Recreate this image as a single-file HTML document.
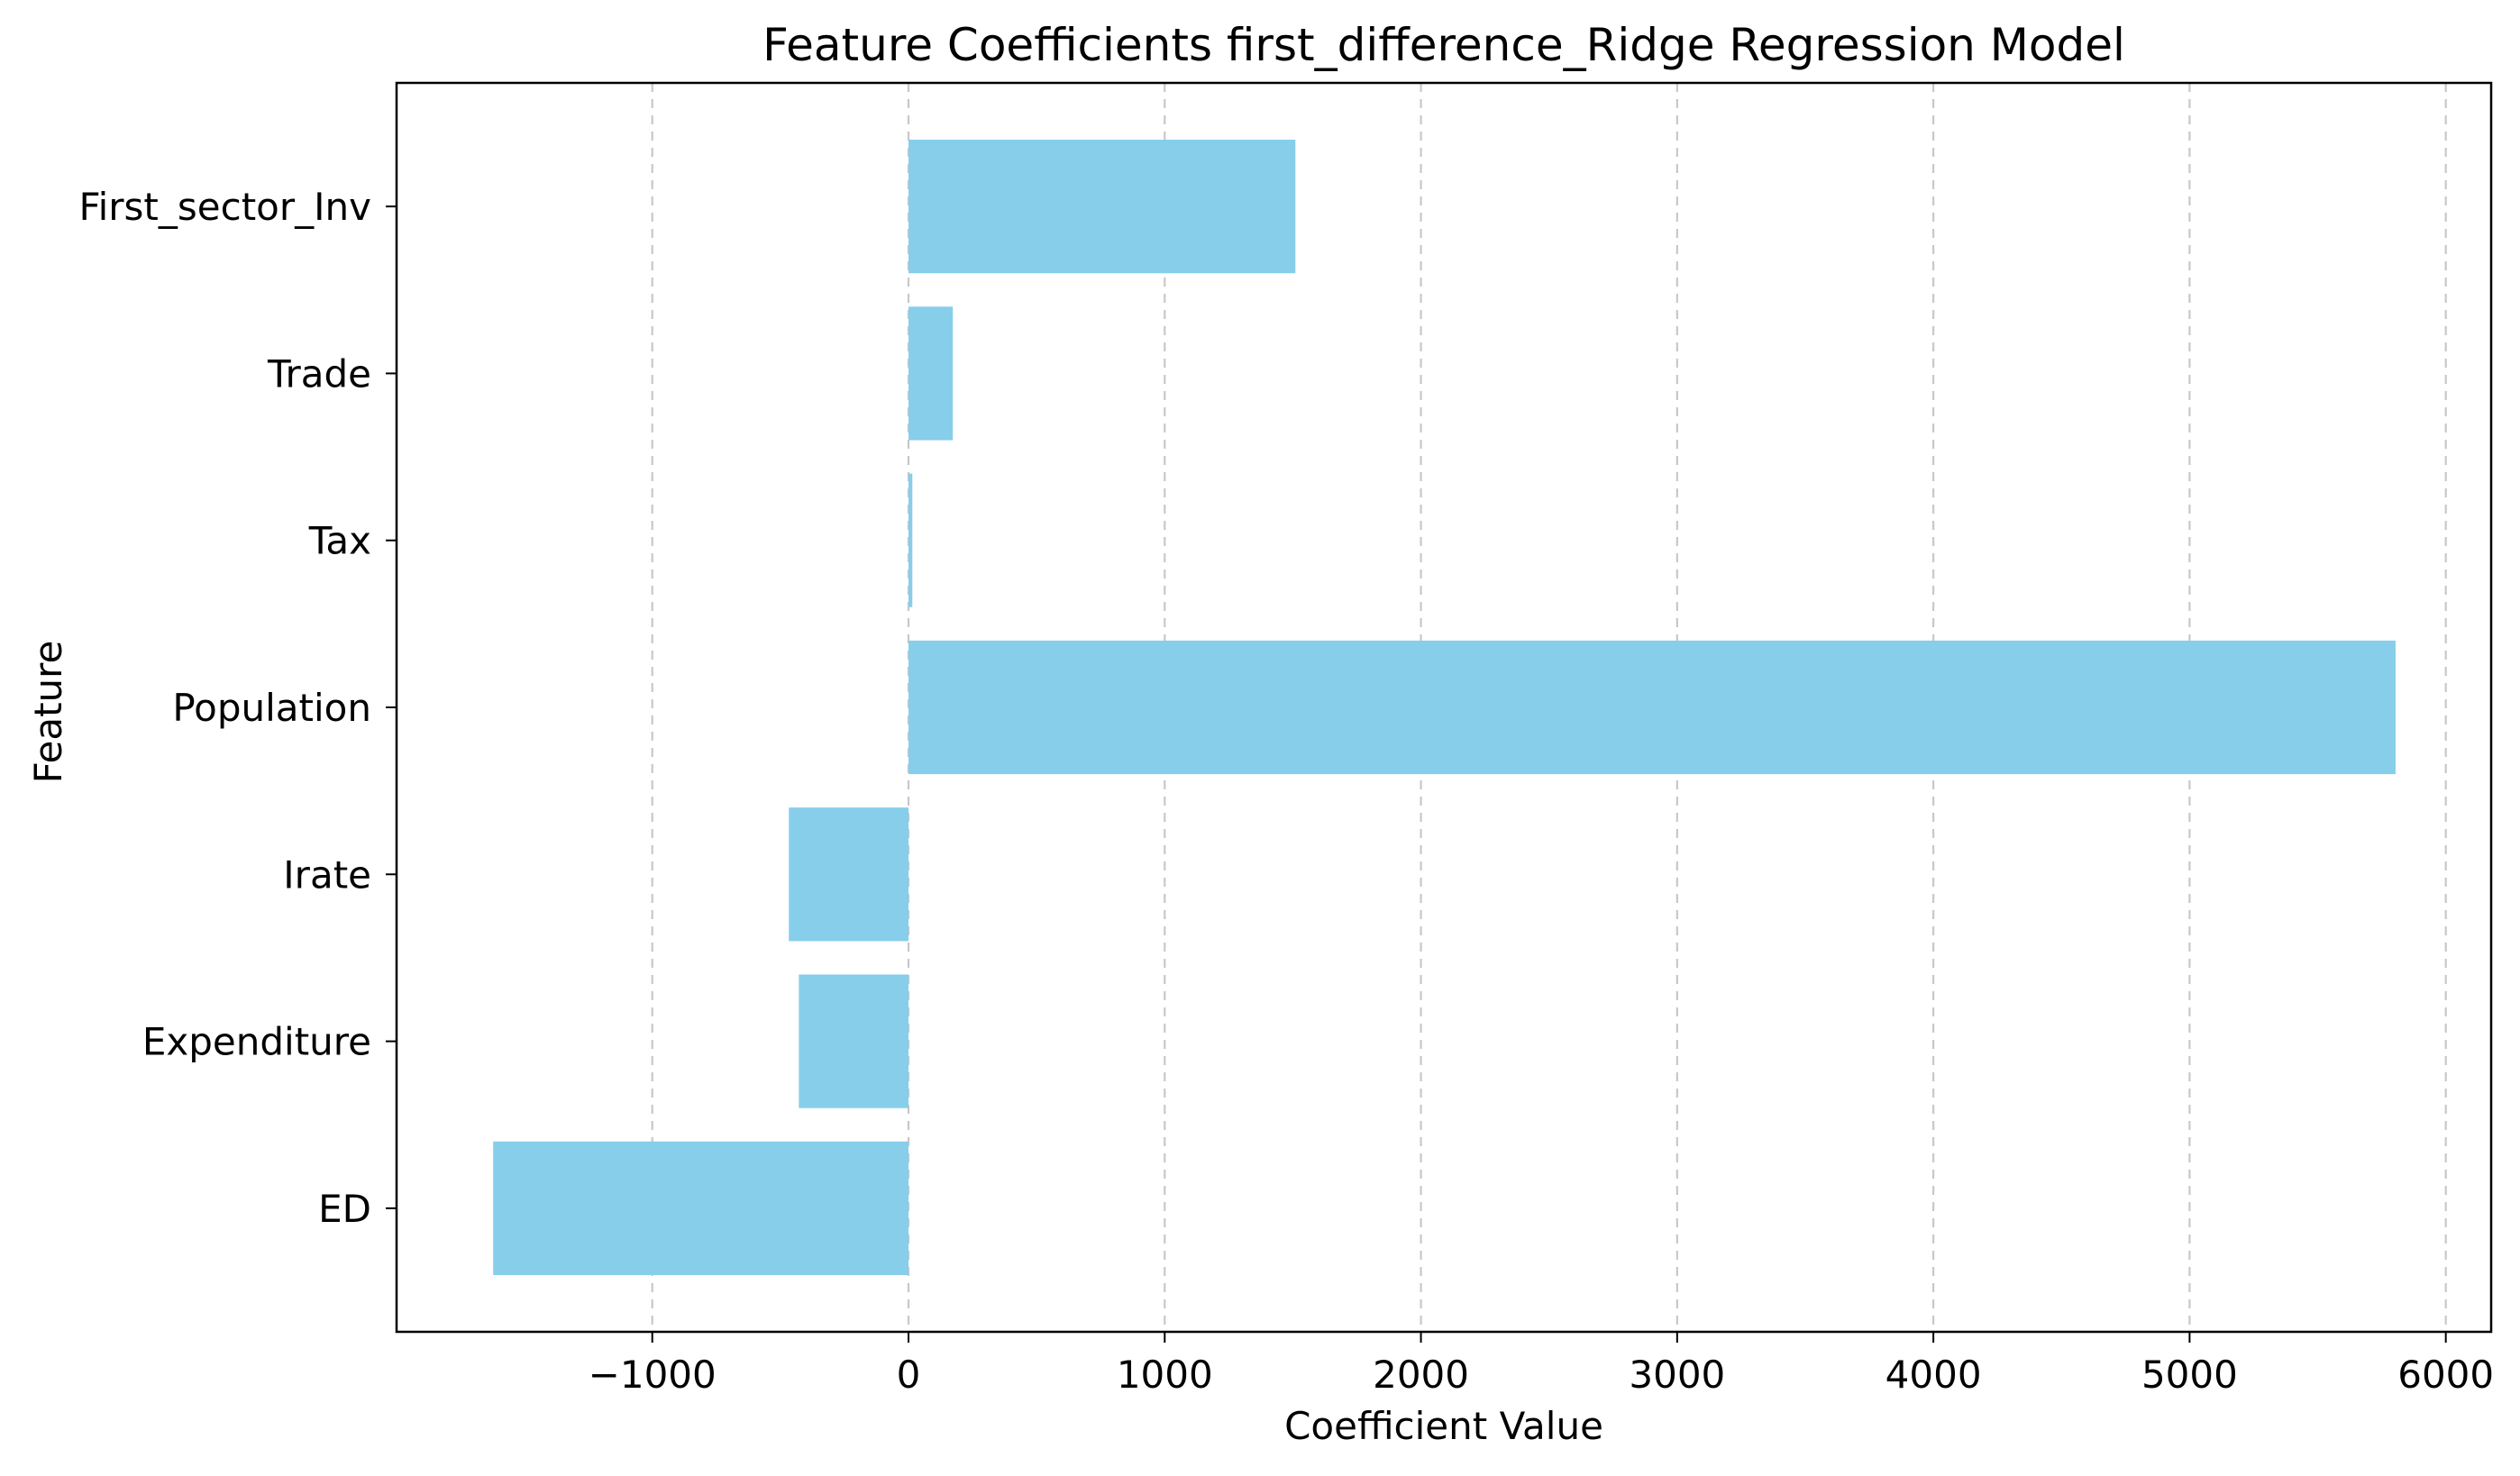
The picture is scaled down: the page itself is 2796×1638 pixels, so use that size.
<!DOCTYPE html>
<html><head><meta charset="utf-8"><style>
html,body{margin:0;padding:0;background:#fff}
svg{display:block;font-family:"DejaVu Sans","Liberation Sans",sans-serif}
</style></head><body>
<svg id="chart" width="2796" height="1638" viewBox="0 0 2796 1638">
<rect x="0" y="0" width="2796" height="1638" fill="#fff"/>
<text x="1602" y="67" font-size="50" text-anchor="middle">Feature Coefficients first_difference_Ridge Regression Model</text>
<g id="grid"></g>
<g id="bars"></g>
<g id="axes"></g>
<text x="1602" y="1597" font-size="42" text-anchor="middle">Coefficient Value</text>
<text x="0" y="0" font-size="42" text-anchor="middle" transform="translate(68,790) rotate(-90)">Feature</text>
</svg>
<script>
const categories = ["ED","Expenditure","Irate","Population","Tax","Trade","First_sector_Inv"];
const coefficients = [-1621, -428, -467, 5804, 15, 173, 1510];
const xTicks = [-1000,0,1000,2000,3000,4000,5000,6000];
const xTickLabels = ["\u22121000","0","1000","2000","3000","4000","5000","6000"];

const NS="http://www.w3.org/2000/svg";
const L=440,R=2764,T=92,B=1478;
const xMin=-1998,xMax=6177;
const yMin=-0.74,yMax=categories.length-1+0.74;
const xs=v=>L+(v-xMin)/(xMax-xMin)*(R-L);
const ys=i=>B-(i-yMin)/(yMax-yMin)*(B-T);
const bw=0.8*(B-T)/(yMax-yMin);
function mk(tag,attrs,parent,txt){const e=document.createElementNS(NS,tag);for(const k in attrs)e.setAttribute(k,attrs[k]);if(txt!==undefined)e.textContent=txt;parent.appendChild(e);return e;}
const grid=document.getElementById('grid'),bars=document.getElementById('bars'),axes=document.getElementById('axes');
xTicks.forEach((t,i)=>{
  const g=mk('line',{x1:xs(t),x2:xs(t),y1:T,y2:B,stroke:'#c8c8c8','stroke-width':2.2,'stroke-dasharray':'10,8'},grid);
  
  
});
categories.forEach((c,i)=>{
  const v=coefficients[i];
  const x0=xs(Math.min(0,v)),x1=xs(Math.max(0,v));
  const r=mk('rect',{x:x0,y:ys(i)-bw/2,width:Math.max(x1-x0,1),height:bw,fill:'#87ceeb'},bars);
  
  
});
const frame=mk('rect',{x:L,y:T,width:R-L,height:B-T,fill:'none',stroke:'#000','stroke-width':2.5},axes);


xTicks.forEach((t,i)=>{
  const tk=mk('line',{x1:xs(t),x2:xs(t),y1:B,y2:B+12,stroke:'#000','stroke-width':2},axes);
  
  
  const lb=mk('text',{x:xs(t),y:B+62,'font-size':42,'text-anchor':'middle'},axes,xTickLabels[i]);
  
  
});
categories.forEach((c,i)=>{
  const tk=mk('line',{x1:L-12,x2:L,y1:ys(i),y2:ys(i),stroke:'#000','stroke-width':2},axes);
  
  
  const lb=mk('text',{x:L-28,y:ys(i)+15,'font-size':42,'text-anchor':'end'},axes,c);
  
  
});
</script>
</body></html>
